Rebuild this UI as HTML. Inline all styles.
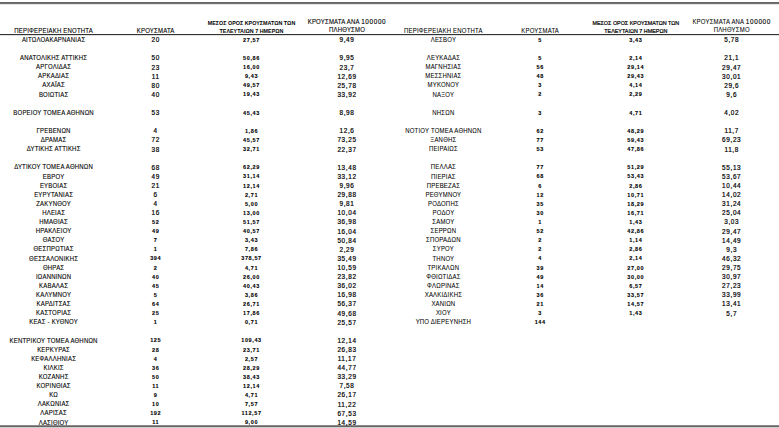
<!DOCTYPE html>
<html><head><meta charset="utf-8"><style>
html,body{margin:0;padding:0;background:#fff;width:779px;height:428px;overflow:hidden;position:relative}
body{font-family:"Liberation Sans",sans-serif;color:#000;font-weight:bold}
.hl{position:absolute;left:0;width:779px}
.top{top:2px;height:1px;background:#666;box-shadow:0 1px 0 #707070,0 2px 0 #e2e2e2}
.mid{top:34px;height:1px;background:#333;box-shadow:0 1px 0 #e0e0e0}
.bot{top:425px;height:1px;background:#8a8a8a;box-shadow:0 1px 0 #666,0 2px 0 #d0d0d0}
.c{position:absolute;width:120px;text-align:center;white-space:nowrap;height:9px;line-height:9px}
.nm{font-weight:normal;font-size:6px;transform:scaleY(1.14);letter-spacing:0.2px;-webkit-text-stroke:0.1px #000;margin-top:-1.8px}
.ld{font-weight:normal;-webkit-text-stroke:0.2px #000;font-size:6.4px;letter-spacing:0.63px;margin-top:-2.5px}
.sd{font-size:5.5px;letter-spacing:0.62px;-webkit-text-stroke:0.1px #000;margin-top:-1.9px}
.h3{font-size:5.4px;letter-spacing:0px;margin-top:-2.3px}
.c .ld{margin:0;-webkit-text-stroke:0.12px #000}
.nm.r{-webkit-text-stroke:0.05px #000}
.h3.r{font-weight:normal;-webkit-text-stroke:0.2px #000}

</style></head><body>
<div class="hl top"></div><div class="hl mid"></div><div class="hl bot"></div>
<div class="c nm" style="left:-6.40px;top:37.70px">ΑΙΤΩΛΟΑΚΑΡΝΑΝΙΑΣ</div>
<div class="c ld" style="left:95.70px;top:37.70px">20</div>
<div class="c sd" style="left:191.50px;top:37.70px">27,57</div>
<div class="c ld" style="left:287.00px;top:37.70px">9,49</div>
<div class="c nm" style="left:-6.40px;top:55.92px">ΑΝΑΤΟΛΙΚΗΣ ΑΤΤΙΚΗΣ</div>
<div class="c ld" style="left:95.70px;top:55.92px">50</div>
<div class="c sd" style="left:191.50px;top:55.92px">50,86</div>
<div class="c ld" style="left:287.00px;top:55.92px">9,95</div>
<div class="c nm" style="left:-6.40px;top:65.03px">ΑΡΓΟΛΙΔΑΣ</div>
<div class="c ld" style="left:95.70px;top:65.03px">23</div>
<div class="c sd" style="left:191.50px;top:65.03px">16,00</div>
<div class="c ld" style="left:287.00px;top:65.03px">23,7</div>
<div class="c nm" style="left:-6.40px;top:74.14px">ΑΡΚΑΔΙΑΣ</div>
<div class="c ld" style="left:95.70px;top:74.14px">11</div>
<div class="c sd" style="left:191.50px;top:74.14px">9,43</div>
<div class="c ld" style="left:287.00px;top:74.14px">12,69</div>
<div class="c nm" style="left:-6.40px;top:83.25px">ΑΧΑΪΑΣ</div>
<div class="c ld" style="left:95.70px;top:83.25px">80</div>
<div class="c sd" style="left:191.50px;top:83.25px">49,57</div>
<div class="c ld" style="left:287.00px;top:83.25px">25,78</div>
<div class="c nm" style="left:-6.40px;top:92.36px">ΒΟΙΩΤΙΑΣ</div>
<div class="c ld" style="left:95.70px;top:92.36px">40</div>
<div class="c sd" style="left:191.50px;top:92.36px">19,43</div>
<div class="c ld" style="left:287.00px;top:92.36px">33,92</div>
<div class="c nm" style="left:-6.40px;top:110.58px">ΒΟΡΕΙΟΥ ΤΟΜΕΑ ΑΘΗΝΩΝ</div>
<div class="c ld" style="left:95.70px;top:110.58px">53</div>
<div class="c sd" style="left:191.50px;top:110.58px">45,43</div>
<div class="c ld" style="left:287.00px;top:110.58px">8,98</div>
<div class="c nm" style="left:-6.40px;top:128.80px">ΓΡΕΒΕΝΩΝ</div>
<div class="c ld" style="left:95.70px;top:128.80px">4</div>
<div class="c sd" style="left:191.50px;top:128.80px">1,86</div>
<div class="c ld" style="left:287.00px;top:128.80px">12,6</div>
<div class="c nm" style="left:-6.40px;top:137.91px">ΔΡΑΜΑΣ</div>
<div class="c ld" style="left:95.70px;top:137.91px">72</div>
<div class="c sd" style="left:191.50px;top:137.91px">45,57</div>
<div class="c ld" style="left:287.00px;top:137.91px">73,25</div>
<div class="c nm" style="left:-6.40px;top:147.02px">ΔΥΤΙΚΗΣ ΑΤΤΙΚΗΣ</div>
<div class="c ld" style="left:95.70px;top:147.02px">38</div>
<div class="c sd" style="left:191.50px;top:147.02px">32,71</div>
<div class="c ld" style="left:287.00px;top:147.02px">22,37</div>
<div class="c nm" style="left:-6.40px;top:165.24px">ΔΥΤΙΚΟΥ ΤΟΜΕΑ ΑΘΗΝΩΝ</div>
<div class="c ld" style="left:95.70px;top:165.24px">68</div>
<div class="c sd" style="left:191.50px;top:165.24px">62,29</div>
<div class="c ld" style="left:287.00px;top:165.24px">13,48</div>
<div class="c nm" style="left:-6.40px;top:174.35px">ΕΒΡΟΥ</div>
<div class="c ld" style="left:95.70px;top:174.35px">49</div>
<div class="c sd" style="left:191.50px;top:174.35px">31,14</div>
<div class="c ld" style="left:287.00px;top:174.35px">33,12</div>
<div class="c nm" style="left:-6.40px;top:183.46px">ΕΥΒΟΙΑΣ</div>
<div class="c ld" style="left:95.70px;top:183.46px">21</div>
<div class="c sd" style="left:191.50px;top:183.46px">12,14</div>
<div class="c ld" style="left:287.00px;top:183.46px">9,96</div>
<div class="c nm" style="left:-6.40px;top:192.57px">ΕΥΡΥΤΑΝΙΑΣ</div>
<div class="c ld" style="left:95.70px;top:192.57px">6</div>
<div class="c sd" style="left:191.50px;top:192.57px">2,71</div>
<div class="c ld" style="left:287.00px;top:192.57px">29,88</div>
<div class="c nm" style="left:-6.40px;top:201.68px">ΖΑΚΥΝΘΟΥ</div>
<div class="c ld" style="left:95.70px;top:201.68px">4</div>
<div class="c sd" style="left:191.50px;top:201.68px">5,00</div>
<div class="c ld" style="left:287.00px;top:201.68px">9,81</div>
<div class="c nm" style="left:-6.40px;top:210.79px">ΗΛΕΙΑΣ</div>
<div class="c ld" style="left:95.70px;top:210.79px">16</div>
<div class="c sd" style="left:191.50px;top:210.79px">13,00</div>
<div class="c ld" style="left:287.00px;top:210.79px">10,04</div>
<div class="c nm" style="left:-6.40px;top:219.90px">ΗΜΑΘΙΑΣ</div>
<div class="c sd" style="left:95.70px;top:219.90px">52</div>
<div class="c sd" style="left:191.50px;top:219.90px">51,57</div>
<div class="c ld" style="left:287.00px;top:219.90px">36,98</div>
<div class="c nm" style="left:-6.40px;top:229.01px">ΗΡΑΚΛΕΙΟΥ</div>
<div class="c sd" style="left:95.70px;top:229.01px">49</div>
<div class="c sd" style="left:191.50px;top:229.01px">40,57</div>
<div class="c ld" style="left:287.00px;top:229.01px">16,04</div>
<div class="c nm" style="left:-6.40px;top:238.12px">ΘΑΣΟΥ</div>
<div class="c sd" style="left:95.70px;top:238.12px">7</div>
<div class="c sd" style="left:191.50px;top:238.12px">3,43</div>
<div class="c ld" style="left:287.00px;top:238.12px">50,84</div>
<div class="c nm" style="left:-6.40px;top:247.23px">ΘΕΣΠΡΩΤΙΑΣ</div>
<div class="c sd" style="left:95.70px;top:247.23px">1</div>
<div class="c sd" style="left:191.50px;top:247.23px">7,86</div>
<div class="c ld" style="left:287.00px;top:247.23px">2,29</div>
<div class="c nm" style="left:-6.40px;top:256.34px">ΘΕΣΣΑΛΟΝΙΚΗΣ</div>
<div class="c sd" style="left:95.70px;top:256.34px">394</div>
<div class="c sd" style="left:191.50px;top:256.34px">378,57</div>
<div class="c ld" style="left:287.00px;top:256.34px">35,49</div>
<div class="c nm" style="left:-6.40px;top:265.45px">ΘΗΡΑΣ</div>
<div class="c sd" style="left:95.70px;top:265.45px">2</div>
<div class="c sd" style="left:191.50px;top:265.45px">4,71</div>
<div class="c ld" style="left:287.00px;top:265.45px">10,59</div>
<div class="c nm" style="left:-6.40px;top:274.56px">ΙΩΑΝΝΙΝΩΝ</div>
<div class="c sd" style="left:95.70px;top:274.56px">40</div>
<div class="c sd" style="left:191.50px;top:274.56px">26,00</div>
<div class="c ld" style="left:287.00px;top:274.56px">23,82</div>
<div class="c nm" style="left:-6.40px;top:283.67px">ΚΑΒΑΛΑΣ</div>
<div class="c sd" style="left:95.70px;top:283.67px">45</div>
<div class="c sd" style="left:191.50px;top:283.67px">40,43</div>
<div class="c ld" style="left:287.00px;top:283.67px">36,02</div>
<div class="c nm" style="left:-6.40px;top:292.78px">ΚΑΛΥΜΝΟΥ</div>
<div class="c sd" style="left:95.70px;top:292.78px">5</div>
<div class="c sd" style="left:191.50px;top:292.78px">3,86</div>
<div class="c ld" style="left:287.00px;top:292.78px">16,98</div>
<div class="c nm" style="left:-6.40px;top:301.89px">ΚΑΡΔΙΤΣΑΣ</div>
<div class="c sd" style="left:95.70px;top:301.89px">64</div>
<div class="c sd" style="left:191.50px;top:301.89px">26,71</div>
<div class="c ld" style="left:287.00px;top:301.89px">56,37</div>
<div class="c nm" style="left:-6.40px;top:311.00px">ΚΑΣΤΟΡΙΑΣ</div>
<div class="c sd" style="left:95.70px;top:311.00px">25</div>
<div class="c sd" style="left:191.50px;top:311.00px">17,86</div>
<div class="c ld" style="left:287.00px;top:311.00px">49,68</div>
<div class="c nm" style="left:-6.40px;top:320.11px">ΚΕΑΣ - ΚΥΘΝΟΥ</div>
<div class="c sd" style="left:95.70px;top:320.11px">1</div>
<div class="c sd" style="left:191.50px;top:320.11px">0,71</div>
<div class="c ld" style="left:287.00px;top:320.11px">25,57</div>
<div class="c nm" style="left:-6.40px;top:338.33px">ΚΕΝΤΡΙΚΟΥ ΤΟΜΕΑ ΑΘΗΝΩΝ</div>
<div class="c sd" style="left:95.70px;top:338.33px">125</div>
<div class="c sd" style="left:191.50px;top:338.33px">109,43</div>
<div class="c ld" style="left:287.00px;top:338.33px">12,14</div>
<div class="c nm" style="left:-6.40px;top:347.44px">ΚΕΡΚΥΡΑΣ</div>
<div class="c sd" style="left:95.70px;top:347.44px">28</div>
<div class="c sd" style="left:191.50px;top:347.44px">23,71</div>
<div class="c ld" style="left:287.00px;top:347.44px">26,83</div>
<div class="c nm" style="left:-6.40px;top:356.55px">ΚΕΦΑΛΛΗΝΙΑΣ</div>
<div class="c sd" style="left:95.70px;top:356.55px">4</div>
<div class="c sd" style="left:191.50px;top:356.55px">2,57</div>
<div class="c ld" style="left:287.00px;top:356.55px">11,17</div>
<div class="c nm" style="left:-6.40px;top:365.66px">ΚΙΛΚΙΣ</div>
<div class="c sd" style="left:95.70px;top:365.66px">36</div>
<div class="c sd" style="left:191.50px;top:365.66px">28,29</div>
<div class="c ld" style="left:287.00px;top:365.66px">44,77</div>
<div class="c nm" style="left:-6.40px;top:374.77px">ΚΟΖΑΝΗΣ</div>
<div class="c sd" style="left:95.70px;top:374.77px">50</div>
<div class="c sd" style="left:191.50px;top:374.77px">38,43</div>
<div class="c ld" style="left:287.00px;top:374.77px">33,29</div>
<div class="c nm" style="left:-6.40px;top:383.88px">ΚΟΡΙΝΘΙΑΣ</div>
<div class="c sd" style="left:95.70px;top:383.88px">11</div>
<div class="c sd" style="left:191.50px;top:383.88px">12,14</div>
<div class="c ld" style="left:287.00px;top:383.88px">7,58</div>
<div class="c nm" style="left:-6.40px;top:392.99px">ΚΩ</div>
<div class="c sd" style="left:95.70px;top:392.99px">9</div>
<div class="c sd" style="left:191.50px;top:392.99px">4,71</div>
<div class="c ld" style="left:287.00px;top:392.99px">26,17</div>
<div class="c nm" style="left:-6.40px;top:402.10px">ΛΑΚΩΝΙΑΣ</div>
<div class="c sd" style="left:95.70px;top:402.10px">10</div>
<div class="c sd" style="left:191.50px;top:402.10px">7,57</div>
<div class="c ld" style="left:287.00px;top:402.10px">11,22</div>
<div class="c nm" style="left:-6.40px;top:411.21px">ΛΑΡΙΣΑΣ</div>
<div class="c sd" style="left:95.70px;top:411.21px">192</div>
<div class="c sd" style="left:191.50px;top:411.21px">112,57</div>
<div class="c ld" style="left:287.00px;top:411.21px">67,53</div>
<div class="c nm" style="left:-6.40px;top:420.32px">ΛΑΣΙΘΙΟΥ</div>
<div class="c sd" style="left:95.70px;top:420.32px">11</div>
<div class="c sd" style="left:191.50px;top:420.32px">9,00</div>
<div class="c ld" style="left:287.00px;top:420.32px">14,59</div>
<div class="c nm" style="left:-6.40px;top:28.30px">ΠΕΡΙΦΕΡΕΙΑΚΗ ΕΝΟΤΗΤΑ</div>
<div class="c nm" style="left:95.70px;top:28.30px">ΚΡΟΥΣΜΑΤΑ</div>
<div class="c h3" style="left:191.50px;top:21.30px">ΜΕΣΟΣ ΟΡΟΣ ΚΡΟΥΣΜΑΤΩΝ ΤΩΝ</div>
<div class="c h3" style="left:191.50px;top:29.30px">ΤΕΛΕΥΤΑΙΩΝ 7 ΗΜΕΡΩΝ</div>
<div class="c nm" style="left:287.00px;top:19.20px">ΚΡΟΥΣΜΑΤΑ ΑΝΑ <span class="ld">100000</span></div>
<div class="c nm" style="left:287.00px;top:28.10px">ΠΛΗΘΥΣΜΟ</div>
<div class="c nm r" style="left:383.40px;top:37.70px">ΛΕΣΒΟΥ</div>
<div class="c sd" style="left:480.20px;top:37.70px">5</div>
<div class="c sd" style="left:575.80px;top:37.70px">3,43</div>
<div class="c ld" style="left:671.70px;top:37.70px">5,78</div>
<div class="c nm r" style="left:383.40px;top:55.92px">ΛΕΥΚΑΔΑΣ</div>
<div class="c sd" style="left:480.20px;top:55.92px">5</div>
<div class="c sd" style="left:575.80px;top:55.92px">2,14</div>
<div class="c ld" style="left:671.70px;top:55.92px">21,1</div>
<div class="c nm r" style="left:383.40px;top:65.03px">ΜΑΓΝΗΣΙΑΣ</div>
<div class="c sd" style="left:480.20px;top:65.03px">56</div>
<div class="c sd" style="left:575.80px;top:65.03px">29,14</div>
<div class="c ld" style="left:671.70px;top:65.03px">29,47</div>
<div class="c nm r" style="left:383.40px;top:74.14px">ΜΕΣΣΗΝΙΑΣ</div>
<div class="c sd" style="left:480.20px;top:74.14px">48</div>
<div class="c sd" style="left:575.80px;top:74.14px">29,43</div>
<div class="c ld" style="left:671.70px;top:74.14px">30,01</div>
<div class="c nm r" style="left:383.40px;top:83.25px">ΜΥΚΟΝΟΥ</div>
<div class="c sd" style="left:480.20px;top:83.25px">3</div>
<div class="c sd" style="left:575.80px;top:83.25px">4,14</div>
<div class="c ld" style="left:671.70px;top:83.25px">29,6</div>
<div class="c nm r" style="left:383.40px;top:92.36px">ΝΑΞΟΥ</div>
<div class="c sd" style="left:480.20px;top:92.36px">2</div>
<div class="c sd" style="left:575.80px;top:92.36px">2,29</div>
<div class="c ld" style="left:671.70px;top:92.36px">9,6</div>
<div class="c nm r" style="left:383.40px;top:110.58px">ΝΗΣΩΝ</div>
<div class="c sd" style="left:480.20px;top:110.58px">3</div>
<div class="c sd" style="left:575.80px;top:110.58px">4,71</div>
<div class="c ld" style="left:671.70px;top:110.58px">4,02</div>
<div class="c nm r" style="left:383.40px;top:128.80px">ΝΟΤΙΟΥ ΤΟΜΕΑ ΑΘΗΝΩΝ</div>
<div class="c sd" style="left:480.20px;top:128.80px">62</div>
<div class="c sd" style="left:575.80px;top:128.80px">48,29</div>
<div class="c ld" style="left:671.70px;top:128.80px">11,7</div>
<div class="c nm r" style="left:383.40px;top:137.91px">ΞΑΝΘΗΣ</div>
<div class="c sd" style="left:480.20px;top:137.91px">77</div>
<div class="c sd" style="left:575.80px;top:137.91px">59,43</div>
<div class="c ld" style="left:671.70px;top:137.91px">69,23</div>
<div class="c nm r" style="left:383.40px;top:147.02px">ΠΕΙΡΑΙΩΣ</div>
<div class="c sd" style="left:480.20px;top:147.02px">53</div>
<div class="c sd" style="left:575.80px;top:147.02px">47,86</div>
<div class="c ld" style="left:671.70px;top:147.02px">11,8</div>
<div class="c nm r" style="left:383.40px;top:165.24px">ΠΕΛΛΑΣ</div>
<div class="c sd" style="left:480.20px;top:165.24px">77</div>
<div class="c sd" style="left:575.80px;top:165.24px">51,29</div>
<div class="c ld" style="left:671.70px;top:165.24px">55,13</div>
<div class="c nm r" style="left:383.40px;top:174.35px">ΠΙΕΡΙΑΣ</div>
<div class="c sd" style="left:480.20px;top:174.35px">68</div>
<div class="c sd" style="left:575.80px;top:174.35px">53,43</div>
<div class="c ld" style="left:671.70px;top:174.35px">53,67</div>
<div class="c nm r" style="left:383.40px;top:183.46px">ΠΡΕΒΕΖΑΣ</div>
<div class="c sd" style="left:480.20px;top:183.46px">6</div>
<div class="c sd" style="left:575.80px;top:183.46px">2,86</div>
<div class="c ld" style="left:671.70px;top:183.46px">10,44</div>
<div class="c nm r" style="left:383.40px;top:192.57px">ΡΕΘΥΜΝΟΥ</div>
<div class="c sd" style="left:480.20px;top:192.57px">12</div>
<div class="c sd" style="left:575.80px;top:192.57px">10,71</div>
<div class="c ld" style="left:671.70px;top:192.57px">14,02</div>
<div class="c nm r" style="left:383.40px;top:201.68px">ΡΟΔΟΠΗΣ</div>
<div class="c sd" style="left:480.20px;top:201.68px">35</div>
<div class="c sd" style="left:575.80px;top:201.68px">18,29</div>
<div class="c ld" style="left:671.70px;top:201.68px">31,24</div>
<div class="c nm r" style="left:383.40px;top:210.79px">ΡΟΔΟΥ</div>
<div class="c sd" style="left:480.20px;top:210.79px">30</div>
<div class="c sd" style="left:575.80px;top:210.79px">16,71</div>
<div class="c ld" style="left:671.70px;top:210.79px">25,04</div>
<div class="c nm r" style="left:383.40px;top:219.90px">ΣΑΜΟΥ</div>
<div class="c sd" style="left:480.20px;top:219.90px">1</div>
<div class="c sd" style="left:575.80px;top:219.90px">1,43</div>
<div class="c ld" style="left:671.70px;top:219.90px">3,03</div>
<div class="c nm r" style="left:383.40px;top:229.01px">ΣΕΡΡΩΝ</div>
<div class="c sd" style="left:480.20px;top:229.01px">52</div>
<div class="c sd" style="left:575.80px;top:229.01px">42,86</div>
<div class="c ld" style="left:671.70px;top:229.01px">29,47</div>
<div class="c nm r" style="left:383.40px;top:238.12px">ΣΠΟΡΑΔΩΝ</div>
<div class="c sd" style="left:480.20px;top:238.12px">2</div>
<div class="c sd" style="left:575.80px;top:238.12px">1,14</div>
<div class="c ld" style="left:671.70px;top:238.12px">14,49</div>
<div class="c nm r" style="left:383.40px;top:247.23px">ΣΥΡΟΥ</div>
<div class="c sd" style="left:480.20px;top:247.23px">2</div>
<div class="c sd" style="left:575.80px;top:247.23px">2,86</div>
<div class="c ld" style="left:671.70px;top:247.23px">9,3</div>
<div class="c nm r" style="left:383.40px;top:256.34px">ΤΗΝΟΥ</div>
<div class="c sd" style="left:480.20px;top:256.34px">4</div>
<div class="c sd" style="left:575.80px;top:256.34px">2,14</div>
<div class="c ld" style="left:671.70px;top:256.34px">46,32</div>
<div class="c nm r" style="left:383.40px;top:265.45px">ΤΡΙΚΑΛΩΝ</div>
<div class="c sd" style="left:480.20px;top:265.45px">39</div>
<div class="c sd" style="left:575.80px;top:265.45px">27,00</div>
<div class="c ld" style="left:671.70px;top:265.45px">29,75</div>
<div class="c nm r" style="left:383.40px;top:274.56px">ΦΘΙΩΤΙΔΑΣ</div>
<div class="c sd" style="left:480.20px;top:274.56px">49</div>
<div class="c sd" style="left:575.80px;top:274.56px">30,00</div>
<div class="c ld" style="left:671.70px;top:274.56px">30,97</div>
<div class="c nm r" style="left:383.40px;top:283.67px">ΦΛΩΡΙΝΑΣ</div>
<div class="c sd" style="left:480.20px;top:283.67px">14</div>
<div class="c sd" style="left:575.80px;top:283.67px">6,57</div>
<div class="c ld" style="left:671.70px;top:283.67px">27,23</div>
<div class="c nm r" style="left:383.40px;top:292.78px">ΧΑΛΚΙΔΙΚΗΣ</div>
<div class="c sd" style="left:480.20px;top:292.78px">36</div>
<div class="c sd" style="left:575.80px;top:292.78px">33,57</div>
<div class="c ld" style="left:671.70px;top:292.78px">33,99</div>
<div class="c nm r" style="left:383.40px;top:301.89px">ΧΑΝΙΩΝ</div>
<div class="c sd" style="left:480.20px;top:301.89px">21</div>
<div class="c sd" style="left:575.80px;top:301.89px">14,57</div>
<div class="c ld" style="left:671.70px;top:301.89px">13,41</div>
<div class="c nm r" style="left:383.40px;top:311.00px">ΧΙΟΥ</div>
<div class="c sd" style="left:480.20px;top:311.00px">3</div>
<div class="c sd" style="left:575.80px;top:311.00px">1,43</div>
<div class="c ld" style="left:671.70px;top:311.00px">5,7</div>
<div class="c nm r" style="left:383.40px;top:320.11px">ΥΠΟ ΔΙΕΡΕΥΝΗΣΗ</div>
<div class="c sd" style="left:480.20px;top:320.11px">144</div>
<div class="c nm r" style="left:383.40px;top:28.30px">ΠΕΡΙΦΕΡΕΙΑΚΗ ΕΝΟΤΗΤΑ</div>
<div class="c nm r" style="left:480.20px;top:28.30px">ΚΡΟΥΣΜΑΤΑ</div>
<div class="c h3 r" style="left:575.80px;top:21.30px">ΜΕΣΟΣ ΟΡΟΣ ΚΡΟΥΣΜΑΤΩΝ ΤΩΝ</div>
<div class="c h3 r" style="left:575.80px;top:29.30px">ΤΕΛΕΥΤΑΙΩΝ 7 ΗΜΕΡΩΝ</div>
<div class="c nm r" style="left:671.70px;top:19.20px">ΚΡΟΥΣΜΑΤΑ ΑΝΑ <span class="ld">100000</span></div>
<div class="c nm r" style="left:671.70px;top:28.10px">ΠΛΗΘΥΣΜΟ</div>
</body></html>
